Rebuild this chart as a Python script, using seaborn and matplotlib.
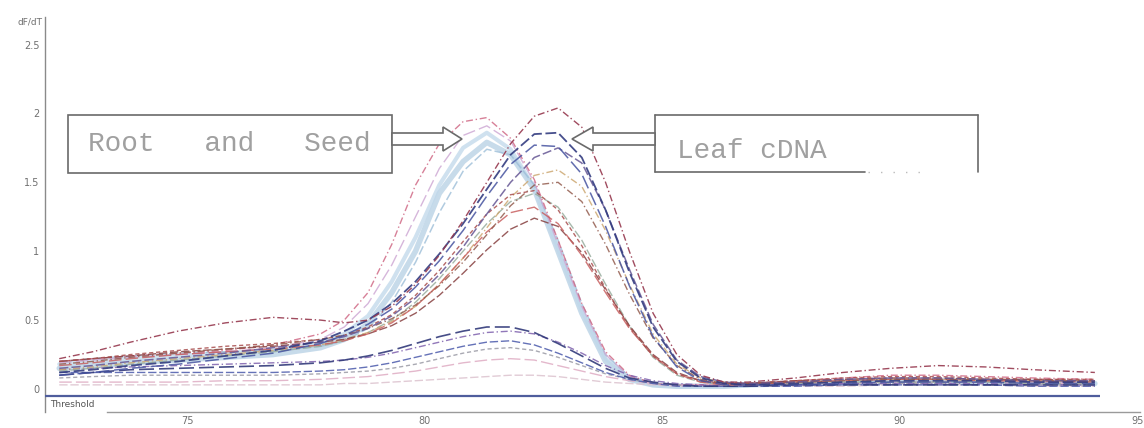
import numpy as np
import pandas as pd
import matplotlib
matplotlib.use("Agg")
import matplotlib.pyplot as plt
import matplotlib.transforms as mtrans
from matplotlib.patches import Rectangle, Polygon
from matplotlib.lines import Line2D
import seaborn as sns

# ---------------- data ----------------
temps = [72.5, 73.2, 74, 75, 76, 77, 78, 78.5, 79, 79.5, 80, 80.5, 81, 81.5, 82, 82.5,
         83, 83.5, 84, 84.5, 85, 85.5, 86, 86.5, 87, 88, 89, 90, 91, 92, 93, 94.3]

# Root and Seed samples (peak ~81.4 C)
rs_pink = [0.20, 0.22, 0.24, 0.26, 0.28, 0.32, 0.40, 0.50, 0.70, 1.05, 1.48, 1.78, 1.94, 1.97, 1.82, 1.52,
           1.08, 0.62, 0.27, 0.10, 0.04, 0.03, 0.03, 0.03, 0.04, 0.06, 0.08, 0.10, 0.10, 0.09, 0.08, 0.07]
rs_blue1 = [0.15, 0.17, 0.19, 0.21, 0.23, 0.25, 0.30, 0.36, 0.47, 0.70, 1.00, 1.42, 1.65, 1.79, 1.70, 1.45,
            1.00, 0.55, 0.20, 0.07, 0.03, 0.02, 0.02, 0.02, 0.03, 0.04, 0.05, 0.06, 0.06, 0.05, 0.05, 0.04]
rs_blue2 = [0.18, 0.20, 0.22, 0.24, 0.26, 0.28, 0.33, 0.40, 0.53, 0.78, 1.10, 1.48, 1.75, 1.86, 1.74, 1.46,
            1.02, 0.57, 0.22, 0.08, 0.03, 0.02, 0.02, 0.02, 0.03, 0.04, 0.05, 0.06, 0.06, 0.05, 0.05, 0.04]
rs_lilac = [0.19, 0.21, 0.23, 0.25, 0.27, 0.30, 0.36, 0.45, 0.62, 0.90, 1.25, 1.60, 1.84, 1.91, 1.80, 1.50,
            1.05, 0.60, 0.25, 0.09, 0.04, 0.03, 0.03, 0.03, 0.03, 0.05, 0.06, 0.07, 0.07, 0.06, 0.05, 0.05]
rs_cyan = [0.20, 0.22, 0.24, 0.26, 0.27, 0.28, 0.31, 0.35, 0.44, 0.63, 0.92, 1.28, 1.58, 1.74, 1.70, 1.48,
           1.08, 0.62, 0.25, 0.09, 0.04, 0.03, 0.02, 0.02, 0.03, 0.04, 0.05, 0.05, 0.05, 0.05, 0.04, 0.04]

# Leaf cDNA samples (peak ~82.7 C)
leaf_maroon = [0.22, 0.27, 0.34, 0.42, 0.48, 0.52, 0.50, 0.48, 0.50, 0.60, 0.76, 0.97, 1.22, 1.50, 1.78, 1.98,
               2.04, 1.90, 1.50, 1.00, 0.55, 0.25, 0.10, 0.05, 0.05, 0.08, 0.12, 0.15, 0.17, 0.16, 0.14, 0.12]
leaf_navy1 = [0.12, 0.14, 0.17, 0.20, 0.24, 0.28, 0.35, 0.42, 0.50, 0.62, 0.78, 0.98, 1.20, 1.45, 1.70, 1.85,
              1.86, 1.68, 1.30, 0.85, 0.45, 0.20, 0.08, 0.04, 0.03, 0.04, 0.05, 0.06, 0.06, 0.06, 0.05, 0.05]
leaf_navy2 = [0.10, 0.12, 0.15, 0.18, 0.22, 0.26, 0.33, 0.39, 0.47, 0.58, 0.74, 0.93, 1.15, 1.40, 1.63, 1.77,
              1.76, 1.56, 1.18, 0.75, 0.38, 0.16, 0.06, 0.03, 0.03, 0.03, 0.04, 0.05, 0.05, 0.05, 0.04, 0.04]
leaf_violet = [0.15, 0.17, 0.20, 0.23, 0.26, 0.30, 0.34, 0.38, 0.44, 0.53, 0.66, 0.83, 1.03, 1.27, 1.50, 1.68,
               1.75, 1.64, 1.30, 0.87, 0.47, 0.21, 0.09, 0.05, 0.04, 0.05, 0.07, 0.08, 0.08, 0.07, 0.06, 0.06]
leaf_tan = [0.14, 0.16, 0.19, 0.22, 0.25, 0.28, 0.32, 0.36, 0.41, 0.49, 0.60, 0.76, 0.95, 1.17, 1.39, 1.55,
            1.59, 1.47, 1.15, 0.76, 0.40, 0.18, 0.08, 0.05, 0.04, 0.05, 0.06, 0.07, 0.07, 0.06, 0.06, 0.05]
leaf_brown = [0.18, 0.20, 0.23, 0.26, 0.29, 0.32, 0.36, 0.39, 0.44, 0.51, 0.61, 0.75, 0.92, 1.12, 1.33, 1.48,
              1.50, 1.36, 1.05, 0.69, 0.37, 0.17, 0.07, 0.04, 0.04, 0.05, 0.06, 0.07, 0.07, 0.07, 0.06, 0.06]
leaf_sage = [0.13, 0.15, 0.18, 0.21, 0.24, 0.27, 0.31, 0.35, 0.41, 0.50, 0.63, 0.80, 1.00, 1.20, 1.36, 1.42,
             1.32, 1.08, 0.76, 0.46, 0.23, 0.10, 0.05, 0.03, 0.03, 0.04, 0.05, 0.05, 0.05, 0.05, 0.04, 0.04]
leaf_rust = [0.20, 0.22, 0.25, 0.28, 0.31, 0.33, 0.36, 0.39, 0.45, 0.54, 0.68, 0.86, 1.07, 1.27, 1.41, 1.44,
             1.30, 1.04, 0.73, 0.45, 0.24, 0.11, 0.06, 0.04, 0.04, 0.06, 0.08, 0.09, 0.09, 0.08, 0.07, 0.07]
leaf_red = [0.17, 0.19, 0.22, 0.25, 0.27, 0.29, 0.32, 0.35, 0.40, 0.48, 0.60, 0.76, 0.95, 1.14, 1.28, 1.32,
            1.20, 0.97, 0.70, 0.44, 0.24, 0.11, 0.05, 0.03, 0.03, 0.05, 0.06, 0.07, 0.07, 0.06, 0.06, 0.05]
leaf_darkred = [0.20, 0.22, 0.24, 0.27, 0.29, 0.31, 0.34, 0.36, 0.40, 0.46, 0.55, 0.68, 0.84, 1.01, 1.16, 1.24,
                1.18, 0.99, 0.72, 0.46, 0.25, 0.12, 0.06, 0.04, 0.04, 0.06, 0.07, 0.08, 0.08, 0.07, 0.07, 0.06]

# low-signal samples
low_navy = [0.10, 0.12, 0.14, 0.15, 0.16, 0.17, 0.19, 0.21, 0.24, 0.28, 0.33, 0.38, 0.42, 0.45, 0.45, 0.41,
            0.33, 0.24, 0.15, 0.08, 0.05, 0.03, 0.02, 0.02, 0.02, 0.03, 0.03, 0.03, 0.03, 0.03, 0.03, 0.03]
low_purple = [0.14, 0.15, 0.16, 0.17, 0.18, 0.19, 0.20, 0.21, 0.23, 0.26, 0.30, 0.34, 0.38, 0.41, 0.42, 0.40,
              0.34, 0.26, 0.17, 0.10, 0.06, 0.04, 0.03, 0.02, 0.03, 0.03, 0.04, 0.04, 0.04, 0.04, 0.03, 0.03]
low_blue = [0.12, 0.12, 0.12, 0.12, 0.12, 0.12, 0.13, 0.14, 0.16, 0.19, 0.23, 0.27, 0.31, 0.34, 0.35, 0.32,
            0.26, 0.19, 0.12, 0.07, 0.04, 0.02, 0.02, 0.02, 0.02, 0.02, 0.03, 0.03, 0.03, 0.03, 0.02, 0.02]
low_gray = [0.08, 0.09, 0.10, 0.10, 0.10, 0.10, 0.11, 0.12, 0.13, 0.15, 0.18, 0.22, 0.26, 0.29, 0.30, 0.28,
            0.23, 0.17, 0.11, 0.07, 0.04, 0.03, 0.02, 0.02, 0.02, 0.03, 0.03, 0.04, 0.04, 0.03, 0.03, 0.03]
low_pink = [0.05, 0.05, 0.05, 0.05, 0.06, 0.06, 0.07, 0.08, 0.09, 0.11, 0.13, 0.16, 0.19, 0.21, 0.22, 0.21,
            0.17, 0.13, 0.09, 0.06, 0.04, 0.03, 0.03, 0.03, 0.03, 0.04, 0.04, 0.05, 0.05, 0.05, 0.04, 0.04]
low_faint = [0.03, 0.03, 0.03, 0.03, 0.03, 0.03, 0.03, 0.04, 0.04, 0.05, 0.06, 0.07, 0.08, 0.09, 0.10, 0.10,
             0.09, 0.07, 0.05, 0.04, 0.03, 0.02, 0.02, 0.02, 0.02, 0.02, 0.02, 0.03, 0.03, 0.03, 0.02, 0.02]

threshold = -0.05
x_ticks = [75, 80, 85, 90, 95]
y_ticks = [0, 0.5, 1, 1.5, 2, 2.5]
y_tick_labels = ["0", "0.5", "1", "1.5", "2", "2.5"]
y_title = "dF/dT"
threshold_label = "Threshold"
group_labels = ["Root   and   Seed", "Leaf cDNA"]

curves = {
    "rs_blue1": rs_blue1, "rs_blue2": rs_blue2, "rs_cyan": rs_cyan, "rs_lilac": rs_lilac, "rs_pink": rs_pink,
    "low_faint": low_faint, "low_pink": low_pink, "low_gray": low_gray, "low_blue": low_blue,
    "low_purple": low_purple, "low_navy": low_navy,
    "leaf_sage": leaf_sage, "leaf_tan": leaf_tan, "leaf_darkred": leaf_darkred, "leaf_red": leaf_red,
    "leaf_rust": leaf_rust, "leaf_brown": leaf_brown, "leaf_violet": leaf_violet, "leaf_navy2": leaf_navy2,
    "leaf_navy1": leaf_navy1, "leaf_maroon": leaf_maroon,
}

# ---------------- styles ----------------
D1 = (0, (6, 2))
D2 = (0, (5, 2, 1, 2))
D3 = (0, (9, 3))
D4 = (0, (3, 2))
styles = {
    "rs_blue1": ("#b0cce2", 4.0, "-", 0.7),
    "rs_blue2": ("#c0d8ea", 3.0, "-", 0.75),
    "rs_cyan": ("#9dbed8", 1.1, D1, 0.8),
    "rs_lilac": ("#cfaad5", 1.0, D3, 0.85),
    "rs_pink": ("#d06a86", 1.0, D2, 0.85),
    "low_faint": ("#dcc2ce", 1.0, D1, 0.85),
    "low_pink": ("#dfacc3", 1.0, D3, 0.85),
    "low_gray": ("#9a9aa5", 1.0, D4, 0.85),
    "low_blue": ("#4a59ab", 1.0, D1, 0.85),
    "low_purple": ("#7e60ad", 1.0, D2, 0.85),
    "low_navy": ("#323a7a", 1.2, D3, 0.9),
    "leaf_sage": ("#98ad9e", 1.0, D1, 0.85),
    "leaf_tan": ("#cda872", 1.0, D2, 0.85),
    "leaf_darkred": ("#874040", 1.0, D1, 0.85),
    "leaf_red": ("#c85f5f", 1.0, D3, 0.85),
    "leaf_rust": ("#a84d4d", 1.0, D4, 0.85),
    "leaf_brown": ("#935c4e", 1.0, D2, 0.85),
    "leaf_violet": ("#655694", 1.1, D1, 0.85),
    "leaf_navy2": ("#4653a0", 1.1, D3, 0.85),
    "leaf_navy1": ("#333c80", 1.3, D1, 0.9),
    "leaf_maroon": ("#96384e", 1.0, D2, 0.9),
}

rows = []
for name, vals in curves.items():
    for t, v in zip(temps, vals):
        rows.append({"curve": name, "temp": t, "dfdt": v})
df = pd.DataFrame(rows)

# ---------------- figure ----------------
sns.set_style("white")
plt.rcParams["font.family"] = ["DejaVu Sans"]

W, H = 1144, 428
fig = plt.figure(figsize=(W / 100, H / 100), dpi=100)
def fx(px):
    return px / W
def fy(py):
    return 1 - py / H

ax = fig.add_axes([fx(45), fy(412), fx(1140) - fx(45), fy(17) - fy(412)])
ax.set_xlim(72.2, 95.25)
ax.set_ylim(-0.167, 2.70)

for name in curves:
    c, lw, ls, a = styles[name]
    sub = df[df["curve"] == name]
    sns.lineplot(data=sub, x="temp", y="dfdt", ax=ax, color=c, linewidth=lw,
                 linestyle=ls, alpha=a, estimator=None, sort=False, legend=False)

# threshold line
ax.hlines(threshold, ax.get_xlim()[0], temps[-1] + 0.1, color="#4f5d9c", lw=1.6, zorder=5)
ax.text(72.3, threshold - 0.03, threshold_label, fontsize=6.5, color="#555555",
        va="top", ha="left")

ax.set_xlabel("")
ax.set_ylabel("")
for s in ["top", "right"]:
    ax.spines[s].set_visible(False)
ax.spines["left"].set_color("#8a8a8a")
ax.spines["left"].set_linewidth(1.0)
ax.spines["bottom"].set_color("#9a9a9a")
ax.spines["bottom"].set_linewidth(1.0)
ax.spines["bottom"].set_bounds(73.5, 95.25)

ax.set_xticks(x_ticks)
ax.set_xticklabels([str(t) for t in x_ticks])
ax.set_yticks(y_ticks)
ax.set_yticklabels(y_tick_labels)
ax.tick_params(axis="x", direction="out", length=7, width=0.8, color="#8a8a8a",
               labelsize=7, labelcolor="#707070", pad=-4)
ax.tick_params(axis="y", direction="out", length=3, width=0.8, color="#8a8a8a",
               labelsize=7, labelcolor="#707070", pad=1)
off = mtrans.ScaledTranslation(3 / 100, 0, fig.dpi_scale_trans)
for lbl in ax.get_xticklabels():
    lbl.set_horizontalalignment("left")
    lbl.set_transform(lbl.get_transform() + off)

fig.text(fx(42), fy(22), y_title, ha="right", va="center", fontsize=6.5, color="#707070")

# ---------------- annotation boxes and arrows ----------------
edge = "#6a6a6a"
fig.add_artist(Rectangle((fx(68), fy(173)), fx(392) - fx(68), fy(115) - fy(173),
                         transform=fig.transFigure, fill=False, ec=edge, lw=1.2))
for (x0, y0, x1, y1) in [(655, 115, 978, 115), (655, 115, 655, 172), (978, 115, 978, 172),
                         (655, 172, 865, 172)]:
    fig.add_artist(Line2D([fx(x0), fx(x1)], [fy(y0), fy(y1)], transform=fig.transFigure,
                          color=edge, lw=1.2))
fig.add_artist(Line2D([fx(868), fx(925)], [fy(172), fy(172)], transform=fig.transFigure,
                      color="#bbbbbb", lw=1.0, linestyle=(0, (1, 8))))

arrow_r = [(392, 133), (443, 133), (443, 127), (462, 139), (443, 151), (443, 145), (392, 145)]
arrow_l = [(655, 133), (593, 133), (593, 127), (572, 139), (593, 151), (593, 145), (655, 145)]
for pts in (arrow_r, arrow_l):
    fig.add_artist(Polygon([(fx(x), fy(y)) for x, y in pts], closed=True,
                           transform=fig.transFigure, facecolor="white", edgecolor=edge,
                           lw=1.2, zorder=10))

fig.text(fx(88), fy(144), group_labels[0], ha="left", va="center", fontsize=20,
         color="#a0a0a0", family=["Liberation Mono", "DejaVu Sans Mono"])
fig.text(fx(677), fy(151), group_labels[1], ha="left", va="center", fontsize=20,
         color="#a0a0a0", family=["Liberation Mono", "DejaVu Sans Mono"])

fig.savefig("out.png", dpi=100)
